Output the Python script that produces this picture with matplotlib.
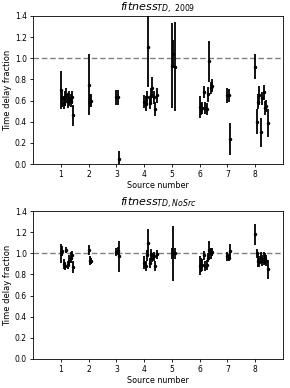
import matplotlib
matplotlib.use('Agg')
import matplotlib.pyplot as plt

# posicoes no eixo x (numero da fonte + deslocamento de cada imagem)
x_pos = [1.00, 1.05, 1.10, 1.15, 1.20, 1.25, 1.30, 1.35, 1.40, 1.45,
         2.00, 2.05, 2.10,
         3.00, 3.05, 3.10,
         4.00, 4.05, 4.10, 4.15, 4.20, 4.25, 4.30, 4.35, 4.40, 4.45,
         5.01, 5.05, 5.10,
         6.00, 6.05, 6.10, 6.15, 6.20, 6.25, 6.30, 6.35, 6.40, 6.45,
         7.00, 7.05, 7.10,
         8.00, 8.05, 8.10, 8.15, 8.20, 8.25, 8.30, 8.35, 8.40, 8.45]

frac_2009 = [0.70, 0.62, 0.58, 0.62, 0.65, 0.60, 0.62, 0.60, 0.63, 0.46,
             0.75, 0.60, 0.60,
             0.63, 0.63, 0.05,
             0.59, 0.57, 0.63, 1.11, 0.58, 0.65, 0.72, 0.63, 0.52, 0.65,
             0.93, 1.04, 0.92,
             0.54, 0.52, 0.53, 0.68, 0.53, 0.52, 0.66, 0.97, 0.72, 0.74,
             0.65, 0.65, 0.24,
             0.92, 0.40, 0.59, 0.65, 0.30, 0.62, 0.68, 0.53, 0.55, 0.39]
err_2009 = [0.18, 0.08, 0.06, 0.07, 0.07, 0.07, 0.07, 0.06, 0.06, 0.10,
            0.29, 0.06, 0.06,
            0.07, 0.07, 0.07,
            0.06, 0.07, 0.06, 0.38, 0.06, 0.07, 0.10, 0.06, 0.07, 0.07,
            0.40, 0.13, 0.42,
            0.10, 0.06, 0.06, 0.06, 0.06, 0.06, 0.07, 0.19, 0.06, 0.06,
            0.07, 0.06, 0.15,
            0.12, 0.12, 0.07, 0.09, 0.14, 0.06, 0.07, 0.07, 0.06, 0.13]

frac_nosrc = [1.00, 1.02, 0.90, 0.88, 1.03, 0.89, 0.93, 0.96, 0.98, 0.87,
              1.03, 0.93, 0.93,
              1.01, 1.02, 0.97,
              0.91, 0.88, 0.98, 1.10, 0.91, 0.99, 0.96, 0.97, 0.88, 0.99,
              1.00, 1.00, 1.00,
              0.88, 0.89, 0.89, 0.98, 0.88, 0.89, 0.96, 1.03, 1.00, 1.01,
              0.97, 0.96, 1.02,
              1.18, 1.00, 0.93, 0.92, 0.96, 0.93, 0.95, 0.95, 0.93, 0.85]
err_nosrc = [0.09, 0.05, 0.05, 0.04, 0.03, 0.04, 0.05, 0.05, 0.04, 0.06,
             0.05, 0.04, 0.03,
             0.04, 0.04, 0.15,
             0.06, 0.05, 0.05, 0.13, 0.05, 0.05, 0.04, 0.04, 0.05, 0.04,
             0.05, 0.26, 0.05,
             0.09, 0.07, 0.06, 0.04, 0.05, 0.05, 0.04, 0.09, 0.05, 0.04,
             0.04, 0.03, 0.07,
             0.10, 0.04, 0.06, 0.05, 0.05, 0.05, 0.06, 0.05, 0.05, 0.09]

paineis = [
    (r'$fitness_{TD,\ \mathrm{2009}}$', frac_2009, err_2009),
    (r'$fitness_{TD,NoSrc}$', frac_nosrc, err_nosrc),
]

fig = plt.figure(figsize=(2.9, 3.88), dpi=100)
caixas = [[0.114, 0.577, 0.862, 0.382], [0.114, 0.075, 0.862, 0.381]]

for caixa, (titulo, frac, err) in zip(caixas, paineis):
    ax = fig.add_axes(caixa)
    ax.axhline(1.0, color='grey', linestyle=(0, (4, 2)), linewidth=1, zorder=1)
    ax.errorbar(x_pos, frac, yerr=err, fmt='.', color='black',
                markersize=3, elinewidth=1.3, zorder=2)
    ax.set_xlim(0, 9)
    ax.set_ylim(0, 1.4)
    ax.set_xticks(range(1, 9))
    ax.set_yticks([0.0, 0.2, 0.4, 0.6, 0.8, 1.0, 1.2, 1.4])
    ax.tick_params(labelsize=5.5, length=2.5, width=0.6, pad=2)
    for s in ax.spines.values():
        s.set_linewidth(0.6)
    ax.set_title(titulo, fontsize=8, pad=3)
    ax.set_xlabel('Source number', fontsize=5.8, labelpad=1)
    ax.set_ylabel('Time delay fraction', fontsize=6, labelpad=2)

fig.savefig('out.png', dpi=100)
